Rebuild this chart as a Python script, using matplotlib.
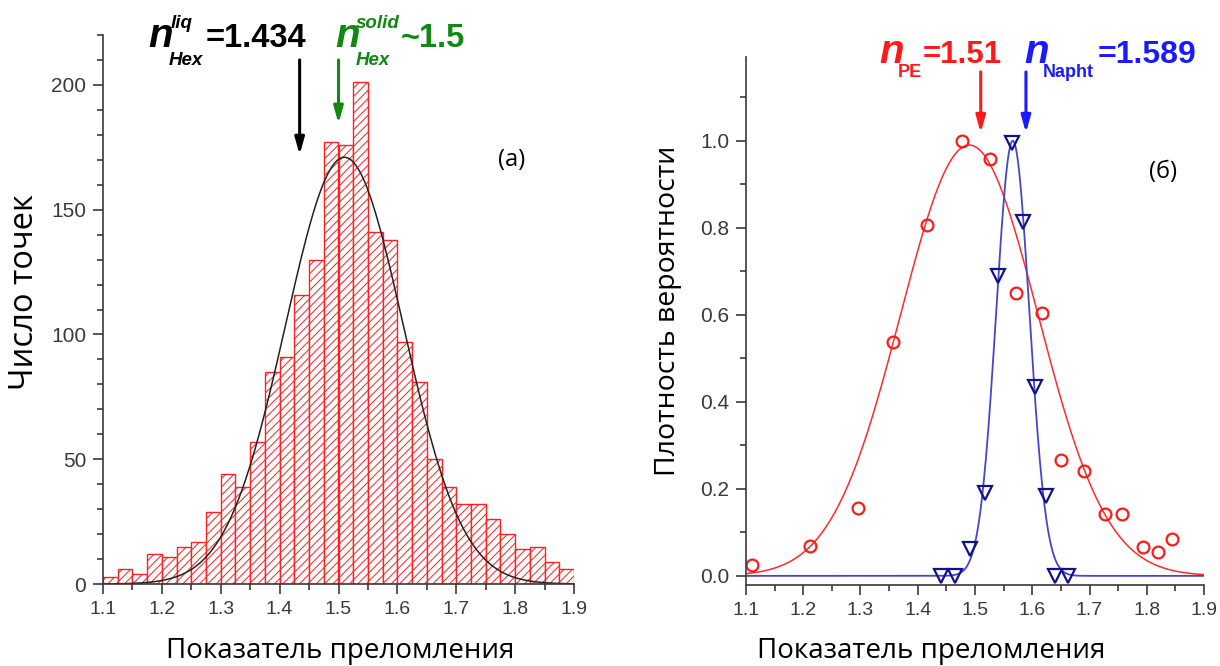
import numpy as np
import matplotlib.pyplot as plt
from matplotlib.ticker import MultipleLocator

W, H = 1220, 666

# гистограмма показателя преломления (гексан), шаг 0.025
bin_width = 0.025
bin_starts = np.round(np.arange(1.1, 1.9 - 1e-9, bin_width), 3)
counts = [3, 6, 4, 12, 11, 15, 17, 29, 44, 39, 57, 85, 91, 116, 130, 177,
          176, 201, 141, 138, 97, 81, 50, 39, 32, 32, 26, 20, 14, 15, 9, 6]
hex_fit = dict(amp=171, mu=1.51, sigma=0.10)
n_hex_liq = 1.434
n_hex_solid = 1.5

# плотность вероятности: полиэтилен и нафталин
pe_x = [1.111, 1.212, 1.296, 1.356, 1.417, 1.478, 1.526, 1.571, 1.617, 1.651,
        1.690, 1.727, 1.757, 1.793, 1.819, 1.844]
pe_y = [0.025, 0.069, 0.157, 0.538, 0.806, 1.0, 0.957, 0.649, 0.603, 0.266,
        0.242, 0.142, 0.142, 0.067, 0.054, 0.084]
pe_fit = dict(amp=0.99, mu=1.49, sigma=0.12)
naph_x = [1.440, 1.465, 1.491, 1.517, 1.541, 1.564, 1.583, 1.604, 1.624, 1.640, 1.662]
naph_y = [0.0, 0.0, 0.061, 0.191, 0.688, 0.995, 0.814, 0.435, 0.184, 0.0, 0.0]
naph_fit = dict(amp=1.0, mu=1.566, sigma=0.029)
n_pe = 1.51
n_naph = 1.589

x_ticks = [1.1, 1.2, 1.3, 1.4, 1.5, 1.6, 1.7, 1.8, 1.9]


def gauss(x, amp, mu, sigma):
    return amp * np.exp(-(x - mu) ** 2 / (2 * sigma ** 2))


def px(X, Y):
    return X / W, 1 - Y / H


plt.rcParams['hatch.linewidth'] = 0.7
label_font = ['Open Sans', 'DejaVu Sans']
tick_font = 'Liberation Sans'
axis_col = '#3a3a3a'

fig = plt.figure(figsize=(W / 100, H / 100), dpi=100)
ax1 = fig.add_axes([103 / W, 1 - 584 / H, (574 - 103) / W, (584 - 35) / H])
ax2 = fig.add_axes([746 / W, 1 - 585 / H, (1204 - 746) / W, (585 - 56.7) / H])


def style_axes(ax, xmin, xmax):
    for s in ('top', 'right'):
        ax.spines[s].set_visible(False)
    for s in ('left', 'bottom'):
        ax.spines[s].set_color(axis_col)
        ax.spines[s].set_linewidth(1.2)
    ax.set_xlim(xmin, xmax)
    ax.set_xticks(x_ticks)
    ax.set_xticklabels([f'{v:.1f}' for v in x_ticks])
    ax.xaxis.set_minor_locator(MultipleLocator(0.05))
    ax.tick_params(which='major', direction='out', length=7, width=1.2,
                   color=axis_col, labelcolor=axis_col)
    ax.tick_params(which='minor', direction='out', length=4, width=1.2,
                   color=axis_col)
    ax.tick_params(axis='x', labelsize=14, pad=5)
    ax.tick_params(axis='y', labelsize=15, pad=5)
    for lab in ax.get_xticklabels() + ax.get_yticklabels():
        lab.set_fontfamily(tick_font)


arrow_style = '-|>,head_length=1.0,head_width=0.28'

# (а) гистограмма
ax1.bar(bin_starts, counts, width=bin_width, align='edge', facecolor='white',
        edgecolor='#ff2020', linewidth=1.0, hatch='////')
xs = np.linspace(1.1, 1.9, 400)
ax1.plot(xs, gauss(xs, **hex_fit), color='#222222', lw=1.1)
ax1.set_ylim(0, 220)
ax1.set_yticks([0, 50, 100, 150, 200])
ax1.yaxis.set_minor_locator(MultipleLocator(10))
style_axes(ax1, 1.1, 1.9)

ax1.annotate('', xy=(n_hex_liq, 172), xytext=(n_hex_liq, 210),
             arrowprops=dict(arrowstyle=arrow_style, color='black', lw=2.2,
                             shrinkA=0, shrinkB=0),
             annotation_clip=False)
ax1.annotate('', xy=(n_hex_solid, 184.5), xytext=(n_hex_solid, 210),
             arrowprops=dict(arrowstyle=arrow_style, color='#118811', lw=2.2,
                             shrinkA=0, shrinkB=0),
             annotation_clip=False)
ax1.text(1.794, 170, '(a)', fontsize=17, family=label_font, ha='center', va='center')

# (б) плотность вероятности
ax2.plot(xs, gauss(xs, **pe_fit), color='#ff2a2a', lw=1.1)
ax2.plot(xs, gauss(xs, **naph_fit), color='#4646c8', lw=1.3)
ax2.plot(pe_x, pe_y, 'o', ms=8.5, mfc='none', mec='#ff1a1a', mew=1.6)
ax2.plot(naph_x, naph_y, 'v', ms=10.5, mfc='none', mec='#101090', mew=1.6)
ax2.set_ylim(-0.021, 1.193)
ax2.set_yticks([0.0, 0.2, 0.4, 0.6, 0.8, 1.0])
ax2.set_yticklabels([f'{v:.1f}' for v in [0.0, 0.2, 0.4, 0.6, 0.8, 1.0]])
ax2.yaxis.set_minor_locator(MultipleLocator(0.1))
style_axes(ax2, 1.1, 1.9)

ax2.annotate('', xy=(n_pe, 1.018), xytext=(n_pe, 1.158),
             arrowprops=dict(arrowstyle=arrow_style, color='#ff1a1a', lw=2.2,
                             shrinkA=0, shrinkB=0),
             annotation_clip=False)
ax2.annotate('', xy=(n_naph, 1.018), xytext=(n_naph, 1.158),
             arrowprops=dict(arrowstyle=arrow_style, color='#1a1aff', lw=2.2,
                             shrinkA=0, shrinkB=0),
             annotation_clip=False)
ax2.text(1.828, 0.929, '(б)', fontsize=17, family=label_font, ha='center', va='center')

# подписи значений над графиками
bold_it = dict(family=tick_font, weight='bold', style='italic', va='baseline')
bold = dict(family=tick_font, weight='bold', va='baseline')

fig.text(*px(148, 47), 'n', fontsize=29, color='black', **bold_it)
fig.text(*px(171, 28), 'liq', fontsize=13.5, color='black', **bold_it)
fig.text(*px(169, 65), 'Hex', fontsize=13.5, color='black', **bold_it)
fig.text(*px(206, 47), f'={n_hex_liq}', fontsize=23.5, color='black', **bold)

green = '#118811'
fig.text(*px(335, 47), 'n', fontsize=29, color=green, **bold_it)
fig.text(*px(356, 28), 'solid', fontsize=13.5, color=green, **bold_it)
fig.text(*px(356, 65), 'Hex', fontsize=13.5, color=green, **bold_it)
fig.text(*px(401, 47), f'~{n_hex_solid}', fontsize=23.5, color=green, **bold)

red = '#ff1a1a'
fig.text(*px(879, 63), 'n', fontsize=29, color=red, **bold_it)
fig.text(*px(898, 77), 'PE', fontsize=13, color=red, **bold)
fig.text(*px(923, 63), f'={n_pe}', fontsize=22.5, color=red, **bold)

blue = '#1a1aff'
fig.text(*px(1024, 63), 'n', fontsize=29, color=blue, **bold_it)
fig.text(*px(1043, 77), 'Napht', fontsize=13, color=blue, **bold)
fig.text(*px(1098, 63), f'={n_naph}', fontsize=23, color=blue, **bold)

# подписи осей
fig.text(*px(340, 658), 'Показатель преломления', fontsize=20, family=label_font,
         ha='center', va='baseline')
fig.text(*px(931, 658), 'Показатель преломления', fontsize=20, family=label_font,
         ha='center', va='baseline')
fig.text(*px(25, 292), 'Число точек', fontsize=23.5, family=label_font,
         rotation=90, ha='center', va='center')
fig.text(*px(668, 311), 'Плотность вероятности', fontsize=20.5, family=label_font,
         rotation=90, ha='center', va='center')

fig.savefig('out.png', dpi=100)
